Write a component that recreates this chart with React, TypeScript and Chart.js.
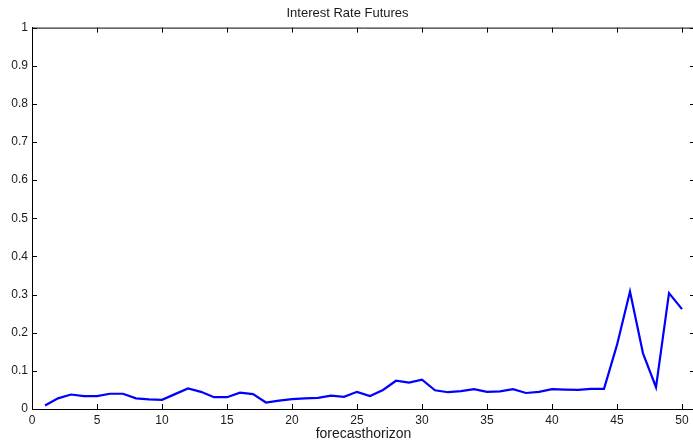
import React, { useEffect, useRef } from 'react';
import { Chart, registerables } from 'chart.js';

Chart.register(...registerables);

const TITLE = 'Interest Rate Futures';
const X_LABEL = 'forecasthorizon';

const horizons = [
  1, 2, 3, 4, 5, 6, 7, 8, 9, 10,
  11, 12, 13, 14, 15, 16, 17, 18, 19, 20,
  21, 22, 23, 24, 25, 26, 27, 28, 29, 30,
  31, 32, 33, 34, 35, 36, 37, 38, 39, 40,
  41, 42, 43, 44, 45, 46, 47, 48, 49, 50,
];

const values = [
  0.009, 0.028, 0.038, 0.034, 0.034, 0.040, 0.040, 0.028, 0.025, 0.024,
  0.039, 0.054, 0.045, 0.031, 0.031, 0.043, 0.039, 0.017, 0.022, 0.026,
  0.028, 0.029, 0.035, 0.032, 0.045, 0.034, 0.050, 0.074, 0.069, 0.077,
  0.049, 0.044, 0.047, 0.052, 0.045, 0.046, 0.052, 0.042, 0.045, 0.052,
  0.051, 0.050, 0.053, 0.053, 0.168, 0.308, 0.146, 0.057, 0.304, 0.262,
];

const xTicks = [0, 5, 10, 15, 20, 25, 30, 35, 40, 45, 50];
const yTicks = [0, 0.1, 0.2, 0.3, 0.4, 0.5, 0.6, 0.7, 0.8, 0.9, 1];

const FONT = '"Liberation Sans", Arial, Helvetica, sans-serif';
const TEXT = '#1a1a1a';

const boxPlugin = {
  id: 'matlabBox',
  afterDraw(chart: any) {
    const { ctx, chartArea, scales } = chart;
    const { left, right, top, bottom } = chartArea;
    const x = scales.x;
    const y = scales.y;
    ctx.save();
    ctx.strokeStyle = '#000000';
    ctx.lineWidth = 1;
    ctx.beginPath();
    ctx.moveTo(left, top + 0.5);
    ctx.lineTo(right, top + 0.5);
    ctx.moveTo(right - 0.5, top);
    ctx.lineTo(right - 0.5, bottom);
    for (const v of xTicks) {
      const px = Math.round(x.getPixelForValue(v)) + 0.5;
      ctx.moveTo(px, bottom);
      ctx.lineTo(px, bottom - 5);
      ctx.moveTo(px, top);
      ctx.lineTo(px, top + 5);
    }
    for (const v of yTicks) {
      const py = Math.round(y.getPixelForValue(v)) + 0.5;
      ctx.moveTo(left, py);
      ctx.lineTo(left + 5, py);
      ctx.moveTo(right, py);
      ctx.lineTo(right - 5, py);
    }
    ctx.stroke();
    ctx.restore();
  },
};

export default function App() {
  const canvasRef = useRef<HTMLCanvasElement | null>(null);

  useEffect(() => {
    const canvas = canvasRef.current;
    if (!canvas) return;
    const chart = new Chart(canvas, {
      type: 'line',
      data: {
        datasets: [
          {
            data: horizons.map((h, i) => ({ x: h, y: values[i] })),
            borderColor: '#0000ff',
            borderWidth: 2.2,
            pointRadius: 0,
            tension: 0,
            fill: false,
          },
        ],
      },
      options: {
        animation: false,
        responsive: false,
        maintainAspectRatio: false,
        devicePixelRatio: 1,
        layout: { padding: { left: 0, top: 0, bottom: 0, right: 5 } },
        plugins: {
          legend: { display: false },
          tooltip: { enabled: false },
          title: {
            display: true,
            text: TITLE,
            color: TEXT,
            font: { family: FONT, size: 13, weight: 'normal' },
            padding: { top: 6, bottom: 6 },
          },
        },
        scales: {
          x: {
            type: 'linear',
            min: 0,
            max: 51,
            afterBuildTicks: (scale: any) => {
              scale.ticks = xTicks.map((v) => ({ value: v }));
            },
            afterFit: (scale: any) => {
              scale.height = 33;
            },
            grid: { display: true, drawOnChartArea: false, drawTicks: false },
            border: { display: true, color: '#000000', width: 1 },
            ticks: {
              color: TEXT,
              font: { family: FONT, size: 12 },
              padding: 4,
              maxRotation: 0,
              autoSkip: false,
            },
            title: {
              display: true,
              text: X_LABEL,
              color: TEXT,
              font: { family: FONT, size: 14 },
              padding: { top: 0, bottom: -1 },
            },
          },
          y: {
            type: 'linear',
            min: 0,
            max: 1,
            afterBuildTicks: (scale: any) => {
              scale.ticks = yTicks.map((v) => ({ value: v }));
            },
            afterFit: (scale: any) => {
              scale.width = 32;
            },
            grid: { display: true, drawOnChartArea: false, drawTicks: false },
            border: { display: true, color: '#000000', width: 1 },
            ticks: {
              color: TEXT,
              font: { family: FONT, size: 12 },
              padding: 4,
              autoSkip: false,
              callback: (v: any) => String(Math.round(Number(v) * 10) / 10),
            },
          },
        },
      },
      plugins: [boxPlugin],
    });
    return () => chart.destroy();
  }, []);

  return (
    <div
      style={{
        position: 'fixed',
        left: 0,
        top: 0,
        width: 700,
        height: 442,
        background: '#ffffff',
      }}
    >
      <canvas ref={canvasRef} width={700} height={442} style={{ display: 'block' }} />
    </div>
  );
}
